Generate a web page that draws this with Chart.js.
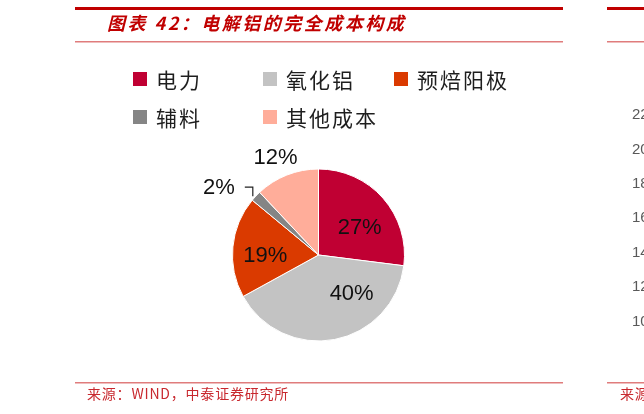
<!DOCTYPE html>
<html>
<head>
<meta charset="utf-8">
<script src="https://cdn.jsdelivr.net/npm/chart.js@4"></script>
<style>
  html, body { margin: 0; padding: 0; background: #fff; }
  canvas { display: block; }
</style>
</head>
<body>
<canvas id="myChart" width="644" height="414"></canvas>
<script>
  // chart data
  const categories = ['电力', '氧化铝', '预焙阳极', '辅料', '其他成本'];
  const shares = [27, 40, 19, 2, 12];
  const sliceColors = ['#C00033', '#C3C3C3', '#DA3A00', '#858585', '#FFAD9A'];
  const titleText = '图表 42：电解铝的完全成本构成';
  const sourceText = '来源：WIND，中泰证券研究所';
  // the next chart to the right is cut off; only its y ticks show
  const sideTicks = ['22', '20', '18', '16', '14', '12', '10'];

  // where each percentage sits: radius factor and angle shift (deg) off the slice middle
  const labelPlace = [
    { r: 0.58, da: 7 },
    { r: 0.59, da: -30 },
    { r: 0.62, da: -5 },
    { r: 1.40, da: -9 },
    { r: 1.25, da: -2 }
  ];

  const cjk = '"Noto Sans CJK SC", sans-serif';

  const pagePlugin = {
    id: 'page',
    afterDraw(chart) {
      const ctx = chart.ctx;
      ctx.save();

      // header + footer rules
      ctx.fillStyle = '#C00000';
      ctx.fillRect(75, 7, 488, 3);
      ctx.fillRect(607, 7, 40, 3);
      ctx.fillStyle = '#E07C7C';
      ctx.fillRect(75, 41, 488, 1.5);
      ctx.fillRect(607, 41, 40, 1.5);
      ctx.fillRect(75, 382, 488, 1.5);
      ctx.fillRect(607, 382, 40, 1.5);

      // title
      ctx.fillStyle = '#C00000';
      ctx.font = 'italic bold 18px ' + cjk;
      ctx.letterSpacing = '2.5px';
      ctx.textBaseline = 'middle';
      ctx.textAlign = 'left';
      ctx.fillText(titleText, 107, 23);

      // source
      ctx.fillStyle = '#C8282E';
      ctx.font = '14px ' + cjk;
      ctx.letterSpacing = '0.8px';
      ctx.fillText(sourceText, 87, 394);
      ctx.fillText('来源', 620, 394);

      // legend, three columns
      const colX = [133, 263, 394];
      const rowY = [79, 117];
      ctx.font = '21px ' + cjk;
      ctx.letterSpacing = '2px';
      categories.forEach((name, i) => {
        const x = colX[i % 3];
        const y = rowY[Math.floor(i / 3)];
        ctx.fillStyle = sliceColors[i];
        ctx.fillRect(x, y - 7, 14, 14);
        ctx.fillStyle = '#1E1E1E';
        ctx.fillText(name, x + 23, y + 1);
      });
      ctx.letterSpacing = '0px';

      // side chart ticks
      ctx.fillStyle = '#595959';
      ctx.font = '15px "Liberation Sans", Arial, sans-serif';
      sideTicks.forEach((t, i) => {
        ctx.fillText(t, 632, 115 + i * 34.4);
      });

      // percentage labels
      const meta = chart.getDatasetMeta(0);
      ctx.font = '22px "Liberation Sans", Arial, sans-serif';
      ctx.textAlign = 'center';
      ctx.fillStyle = '#111';
      meta.data.forEach((arc, i) => {
        const p = arc.getProps(['x', 'y', 'startAngle', 'endAngle', 'outerRadius'], true);
        const mid = (p.startAngle + p.endAngle) / 2 + labelPlace[i].da * Math.PI / 180;
        const rr = p.outerRadius * labelPlace[i].r;
        const lx = p.x + Math.cos(mid) * rr;
        const ly = p.y + Math.sin(mid) * rr;
        ctx.fillText(shares[i] + '%', lx, ly + 1);
      });

      // leader for the small slice
      const small = meta.data[3].getProps(['x', 'y', 'startAngle', 'endAngle', 'outerRadius'], true);
      const sm = (small.startAngle + small.endAngle) / 2;
      const ex = small.x + Math.cos(sm) * small.outerRadius;
      const ey = small.y + Math.sin(sm) * small.outerRadius;
      ctx.strokeStyle = '#222';
      ctx.lineWidth = 1.2;
      ctx.beginPath();
      ctx.moveTo(ex - 11, ey - 9);
      ctx.lineTo(ex - 3, ey - 9);
      ctx.lineTo(ex - 3, ey);
      ctx.stroke();

      ctx.restore();
    }
  };

  const ctx = document.getElementById('myChart').getContext('2d');
  const myChart = new Chart(ctx, {
    type: 'pie',
    data: {
      labels: categories,
      datasets: [{
        data: shares,
        backgroundColor: sliceColors,
        borderColor: '#ffffff',
        borderWidth: 1
      }]
    },
    options: {
      responsive: false,
      animation: false,
      layout: {
        padding: { left: 232, right: 239, top: 168, bottom: 72 }
      },
      plugins: {
        legend: { display: false },
        tooltip: { enabled: false }
      }
    },
    plugins: [pagePlugin]
  });
</script>
</body>
</html>
